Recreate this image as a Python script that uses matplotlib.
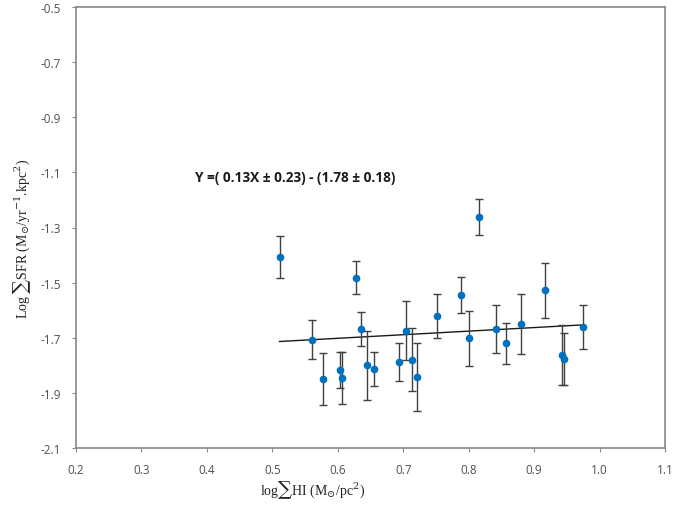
import matplotlib
matplotlib.use("Agg")
import matplotlib.pyplot as plt
import numpy as np

plt.rcParams['mathtext.fontset'] = 'dejavuserif'

log_hi = [0.511, 0.561, 0.577, 0.603, 0.606, 0.628, 0.636, 0.645, 0.656, 0.694,
          0.705, 0.714, 0.721, 0.751, 0.789, 0.800, 0.816, 0.842, 0.857, 0.880,
          0.917, 0.942, 0.945, 0.975]
log_sfr = [-1.408, -1.707, -1.850, -1.817, -1.847, -1.483, -1.668, -1.800, -1.813, -1.788,
           -1.674, -1.780, -1.843, -1.620, -1.545, -1.702, -1.262, -1.668, -1.720, -1.651,
           -1.527, -1.763, -1.777, -1.662]
sfr_err = [0.077, 0.070, 0.093, 0.065, 0.094, 0.060, 0.063, 0.125, 0.062, 0.069,
           0.107, 0.115, 0.124, 0.080, 0.064, 0.100, 0.064, 0.086, 0.075, 0.108,
           0.100, 0.109, 0.094, 0.080]
fit_slope = 0.13
fit_intercept = -1.78
x_ticks = [0.2, 0.3, 0.4, 0.5, 0.6, 0.7, 0.8, 0.9, 1.0, 1.1]
y_ticks = [-2.1, -1.9, -1.7, -1.5, -1.3, -1.1, -0.9, -0.7, -0.5]

fig = plt.figure(figsize=(6.75, 5.1), dpi=100)
ax = fig.add_axes([76/675, 1-449/510, (665-76)/675, (449-8)/510])

ax.errorbar(log_hi, log_sfr, yerr=sfr_err, fmt='o', color='#0070C0', markersize=4.5,
            ecolor='#404040', elinewidth=1.0, capsize=3, capthick=1.0, zorder=3)

xs = np.array([min(log_hi), max(log_hi)])
ax.plot(xs, fit_slope*xs + fit_intercept, color='#1a1a1a', linewidth=1.0, zorder=2)

ax.set_xlim(0.2, 1.1)
ax.set_ylim(-2.1, -0.5)
ax.set_xticks(x_ticks)
ax.set_xticklabels([f"{v:.1f}" for v in x_ticks])
ax.set_yticks(y_ticks)
ax.set_yticklabels([f"{v:.1f}" for v in y_ticks])
ax.tick_params(axis='both', direction='out', length=3, width=0.8, color='#888888',
               labelsize=8.5, labelcolor='#505050', pad=8)
for lab in ax.get_xticklabels() + ax.get_yticklabels():
    lab.set_family('Open Sans')
for s in ax.spines.values():
    s.set_color('#888888')
    s.set_linewidth(1.2)

ax.text(0.535, -1.117, 'Y =( 0.13X ± 0.23) - (1.78 ± 0.18)', ha='center', va='center',
        fontsize=9.8, fontweight='bold', family='Open Sans', color='#1a1a1a')

fig.text(313/675, 1-490/510, 'log\u2211HI (M$_{\\odot}$/pc$^{2}$)', ha='center', va='center',
         fontsize=10, family='Liberation Serif', color='#222222')
fig.text(22/675, 1-239/510, 'Log \u2211SFR (M$_{\\odot}$/yr$^{-1}$.kpc$^{2}$)', ha='center', va='center',
         rotation=90, fontsize=10, family='Liberation Serif', color='#222222')

fig.savefig('out.png', dpi=100)
